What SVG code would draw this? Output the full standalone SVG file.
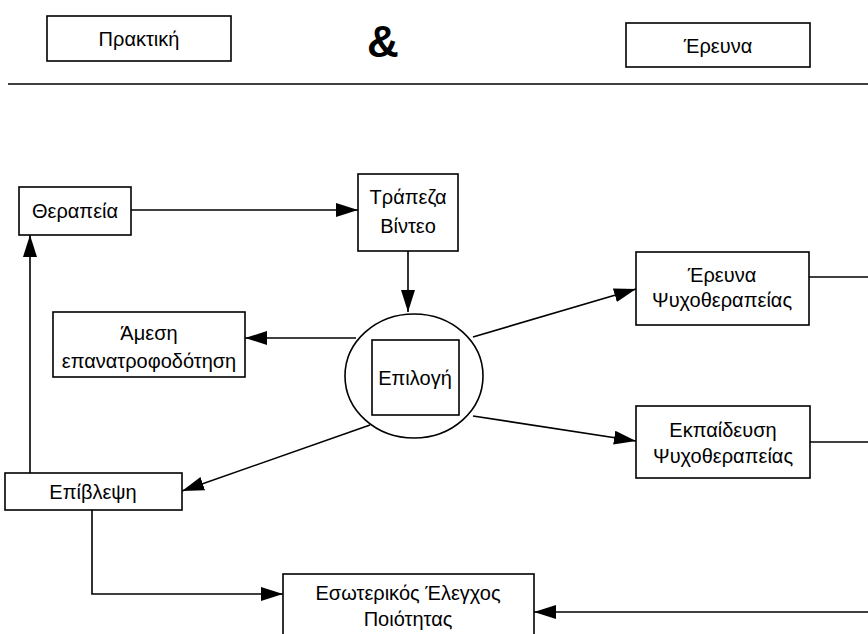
<svg xmlns="http://www.w3.org/2000/svg" width="868" height="634" viewBox="0 0 868 634">
<defs>
<marker id="ah" viewBox="0 0 22 14" refX="22" refY="7" markerWidth="22" markerHeight="14" markerUnits="userSpaceOnUse" orient="auto">
<path d="M0,0 L22,7 L0,14 Z" fill="#000"/>
</marker>
<style>
rect, ellipse { fill: #fff; stroke: #000; stroke-width: 1.6; }
text { font-family: "Liberation Sans", Arial, sans-serif; font-size: 20px; fill: #000; text-anchor: middle; dominant-baseline: central; }
.c { fill: none; stroke: #000; stroke-width: 1.6; }
.a { marker-end: url(#ah); }
</style>
</defs>
<rect x="0" y="0" width="868" height="634" style="fill:#fff;stroke:none"/>
<g id="header">
<g id="praktiki"><rect x="47" y="16" width="184" height="45"/><text x="139" y="39">Πρακτική</text></g>
<text id="amp" x="383" y="41" style="font-size:44px;font-weight:bold">&amp;</text>
<g id="erevna"><rect x="626" y="23" width="184" height="44"/><text x="718" y="46">Έρευνα</text></g>
<line class="c" x1="8" y1="84" x2="868" y2="84"/>
</g>
<g id="connectors">
<line class="c a" x1="131" y1="210" x2="358" y2="210"/>
<line class="c a" x1="408" y1="251" x2="408" y2="312"/>
<line class="c a" x1="356" y1="338" x2="245" y2="338"/>
<line class="c a" x1="473" y1="337" x2="636" y2="289"/>
<line class="c a" x1="473" y1="416" x2="636" y2="441"/>
<line class="c a" x1="370" y1="425" x2="182" y2="491"/>
<line class="c a" x1="30" y1="473" x2="30" y2="235"/>
<polyline class="c a" points="92,510 92,594 283,594"/>
<line class="c" x1="809" y1="277" x2="868" y2="277"/>
<line class="c" x1="810" y1="442" x2="868" y2="442"/>
<line class="c a" x1="868" y1="612" x2="534" y2="612"/>
</g>
<g id="therapeia"><rect x="19" y="187" width="112" height="48"/><text x="75" y="211">Θεραπεία</text></g>
<g id="trapeza"><rect x="358" y="174" width="100" height="77"/><text x="408" y="197">Τράπεζα</text><text x="408" y="226">Βίντεο</text></g>
<g id="epilogi"><ellipse cx="414" cy="376" rx="69" ry="62"/><rect x="372" y="340" width="87" height="75"/><text x="415" y="378">Επιλογή</text></g>
<g id="amesi"><rect x="53" y="312" width="192" height="65"/><text x="149" y="333">Άμεση</text><text x="149" y="361">επανατροφοδότηση</text></g>
<g id="erevna-psy"><rect x="636" y="252" width="173" height="73"/><text x="722" y="275">Έρευνα</text><text x="722" y="300">Ψυχοθεραπείας</text></g>
<g id="ekpaidefsi"><rect x="636" y="406" width="174" height="72"/><text x="723" y="430">Εκπαίδευση</text><text x="723" y="456">Ψυχοθεραπείας</text></g>
<g id="epivlepsi"><rect x="5" y="473" width="177" height="37"/><text x="93" y="492">Επίβλεψη</text></g>
<g id="esoterikos"><rect x="283" y="574" width="251" height="70"/><text x="408" y="593">Εσωτερικός Έλεγχος</text><text x="408" y="619">Ποιότητας</text></g>
</svg>
